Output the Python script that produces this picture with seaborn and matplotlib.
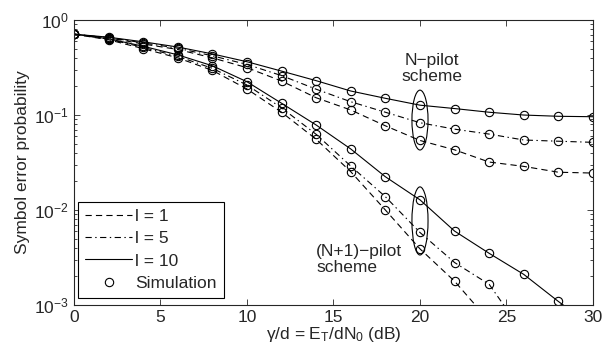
import matplotlib
matplotlib.use("Agg")
import matplotlib.pyplot as plt
from matplotlib.lines import Line2D
from matplotlib.patches import Ellipse
import numpy as np
import seaborn as sns

# SNR grid (dB)
snr = [0, 2, 4, 6, 8, 10, 12, 14, 16, 18, 20, 22, 24, 26, 28, 30]

# N-pilot scheme
n_l10 = [0.71, 0.66, 0.59, 0.52, 0.44, 0.364, 0.29, 0.23, 0.179, 0.15, 0.127, 0.117, 0.107, 0.100, 0.097, 0.096]
n_l5 = [0.71, 0.655, 0.575, 0.505, 0.42, 0.341, 0.26, 0.187, 0.138, 0.107, 0.083, 0.071, 0.063, 0.0546, 0.053, 0.0516]
n_l1 = [0.71, 0.65, 0.56, 0.49, 0.40, 0.315, 0.228, 0.152, 0.113, 0.077, 0.054, 0.043, 0.032, 0.0288, 0.025, 0.0245]

# (N+1)-pilot scheme
n1_l10 = [0.71, 0.635, 0.53, 0.43, 0.33, 0.224, 0.133, 0.0785, 0.0439, 0.0224, 0.0128, 0.006, 0.0035, 0.0021, 0.00109, 0.00059]
n1_l5 = [0.71, 0.63, 0.515, 0.415, 0.31, 0.207, 0.119, 0.0626, 0.029, 0.0138, 0.0058, 0.0028, 0.00165, 0.0005, 0.00018, 0.00007]
n1_l1 = [0.71, 0.62, 0.50, 0.40, 0.295, 0.188, 0.107, 0.0555, 0.0253, 0.010, 0.0039, 0.00178, 0.00068, 0.00025, 0.0001, 0.00004]

sns.set_style("ticks")
plt.rcParams['font.family'] = ['Liberation Sans', 'DejaVu Sans']
plt.rcParams['mathtext.default'] = 'regular'
plt.rcParams['lines.scale_dashes'] = False
plt.rcParams['xtick.direction'] = 'in'
plt.rcParams['ytick.direction'] = 'in'

fs = 12.5
dashed = (0, (4.5, 3))
dashdot = (0, (4.5, 2.5, 1, 2.5))
styles = {'l1': dashed, 'l5': dashdot, 'l10': '-'}

fig = plt.figure(figsize=(6.08, 3.58), dpi=100)
ax = fig.add_axes([0.1217, 0.148, 0.8536, 0.796])

curves = [(n_l10, 'l10'), (n_l5, 'l5'), (n_l1, 'l1'),
          (n1_l10, 'l10'), (n1_l5, 'l5'), (n1_l1, 'l1')]
for vals, key in curves:
    sns.lineplot(x=snr, y=vals, ax=ax, color='k', linewidth=0.8,
                 linestyle=styles[key], marker='o', markersize=6,
                 markerfacecolor='none', markeredgecolor='k',
                 markeredgewidth=0.8, legend=False)

ax.set_yscale('log')
ax.set_xlim(0, 30)
ax.set_ylim(1e-3, 1)
ax.set_xticks([0, 5, 10, 15, 20, 25, 30])
ax.tick_params(which='both', top=True, right=True, labelsize=fs, width=0.6)
ax.tick_params(which='major', length=4)
ax.tick_params(which='minor', length=2)
for s in ax.spines.values():
    s.set_linewidth(0.8)

ax.set_xlabel('γ/d = E$_T$/dN$_0$ (dB)', fontsize=fs, labelpad=0)
ax.set_ylabel('Symbol error probability', fontsize=fs, labelpad=3)

# scheme annotations
ax.add_patch(Ellipse((20 / 30, 0.649), 0.031, 0.21, transform=ax.transAxes,
                     fill=False, edgecolor='k', linewidth=0.8))
ax.add_patch(Ellipse((20 / 30, 0.295), 0.031, 0.239, transform=ax.transAxes,
                     fill=False, edgecolor='k', linewidth=0.8))
ax.text(20.7, 0.31, 'N−pilot\nscheme', ha='center', va='center', fontsize=fs, linespacing=1.05)
ax.text(14.0, 0.003, '(N+1)−pilot\nscheme', ha='left', va='center', fontsize=fs, linespacing=1.05)

handles = [Line2D([], [], color='k', lw=0.8, linestyle=dashed),
           Line2D([], [], color='k', lw=0.8, linestyle=dashdot),
           Line2D([], [], color='k', lw=0.8, linestyle='-'),
           Line2D([], [], color='k', lw=0, marker='o', markersize=6,
                  markerfacecolor='none', markeredgewidth=0.8)]
leg = ax.legend(handles, ['l = 1', 'l = 5', 'l = 10', 'Simulation'],
                loc='lower left', bbox_to_anchor=(0.008, 0.025), borderaxespad=0,
                fontsize=fs, fancybox=False, framealpha=1, edgecolor='k',
                handlelength=2.7, handletextpad=0.2, labelspacing=0.42,
                borderpad=0.4, numpoints=1)
leg.get_frame().set_linewidth(0.8)

fig.savefig('out.png', dpi=100)
